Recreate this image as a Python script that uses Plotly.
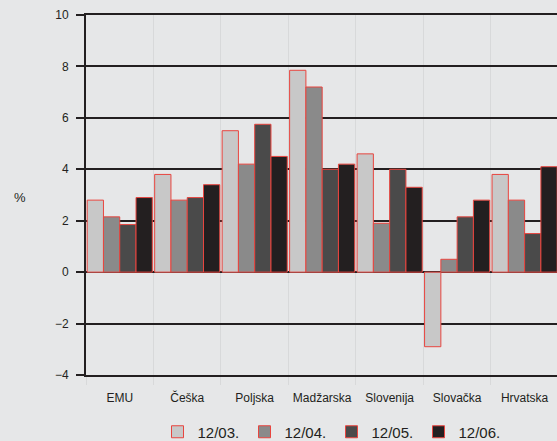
import plotly.graph_objects as go

categories = ["EMU", "Češka", "Poljska", "Madžarska", "Slovenija", "Slovačka", "Hrvatska"]
series_names = ["12/03.", "12/04.", "12/05.", "12/06."]
v_1203 = [2.8, 3.8, 5.5, 7.85, 4.6, -2.9, 3.8]
v_1204 = [2.15, 2.8, 4.2, 7.2, 1.9, 0.5, 2.8]
v_1205 = [1.85, 2.9, 5.75, 4.0, 4.0, 2.15, 1.5]
v_1206 = [2.9, 3.4, 4.5, 4.2, 3.3, 2.8, 4.1]
y_tickvals = [-4, -2, 0, 2, 4, 6, 8, 10]
y_ticktext = ["−4", "−2", "0", "2", "4", "6", "8", "10"]

colors = ["#c8c8c8", "#8a8a8a", "#4a4a4a", "#231f20"]
dark = "#231f20"
bg = "#e6e7e8"
font_family = "Liberation Sans, Arial, sans-serif"

fig = go.Figure()
for name, vals, c in zip(series_names, [v_1203, v_1204, v_1205, v_1206], colors):
    fig.add_trace(go.Bar(
        x=categories, y=vals, name=name,
        marker=dict(color=c, line=dict(color="#e8453f", width=1)),
    ))

W, H = 557, 441
ml, mt, mb = 86, 15, 66
plot_w = W - ml
plot_h = H - mt - mb

fig.update_layout(
    width=W, height=H,
    margin=dict(l=ml, r=0, t=mt, b=mb, autoexpand=False),
    paper_bgcolor=bg, plot_bgcolor=bg,
    barmode="group", bargap=0.035, bargroupgap=0,
    font=dict(family=font_family, color=dark, size=12),
    showlegend=True,
    legend=dict(
        orientation="h", x=0.5 + 10 / plot_w, xanchor="center",
        y=(375 - 432) / plot_h, yanchor="middle",
        font=dict(size=15, color=dark), entrywidth=42, entrywidthmode="pixels",
        bgcolor="rgba(0,0,0,0)", itemclick=False,
    ),
    xaxis=dict(
        type="category", range=[-0.5, 6.48], automargin=False, tickangle=0,
        tickson="boundaries", showgrid=True, gridcolor="#d8d9da", gridwidth=1,
        ticks="outside", ticklen=8, tickcolor="#d8d9da", tickwidth=1,
        showline=True, mirror=True, linecolor=dark, linewidth=2,
        tickfont=dict(size=12, color=dark), ticklabelstandoff=11,
    ),
    yaxis=dict(
        range=[-4, 10], tickvals=y_tickvals, ticktext=y_ticktext, automargin=False,
        showgrid=True, gridcolor=dark, gridwidth=2,
        zeroline=True, zerolinecolor=dark, zerolinewidth=2,
        showline=True, linecolor=dark, linewidth=2,
        ticks="outside", ticklen=8, tickcolor=dark, tickwidth=2,
        tickfont=dict(size=12, color=dark), ticklabelstandoff=5,
    ),
    annotations=[dict(
        text="%", xref="paper", yref="paper",
        x=(20 - ml) / plot_w, y=(375 - 197) / plot_h,
        xanchor="center", yanchor="middle", showarrow=False,
        font=dict(size=13, color=dark),
    )],
)

fig.write_html(
    "out.html",
    config={"displayModeBar": False},
    post_script="document.body.style.margin='0';document.body.style.background='%s';" % bg,
)
